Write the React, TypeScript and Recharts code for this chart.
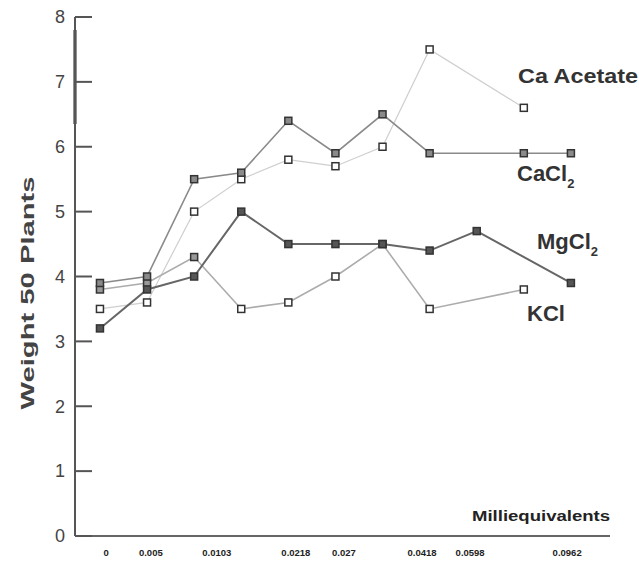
import React from 'react';
import { LineChart, Line, XAxis, YAxis, ReferenceLine, Customized } from 'recharts';

// Category positions (equally spaced doses in the original figure)
const positions = [0, 1, 2, 3, 4, 5, 6, 7, 8, 9, 10];
const caAcetate = [3.5, 3.6, 5.0, 5.5, 5.8, 5.7, 6.0, 7.5, null, 6.6, null];
const caCl2 = [3.9, 4.0, 5.5, 5.6, 6.4, 5.9, 6.5, 5.9, null, 5.9, 5.9];
const kCl = [3.8, 3.9, 4.3, 3.5, 3.6, 4.0, 4.5, 3.5, null, 3.8, null];
const mgCl2 = [3.2, 3.8, 4.0, 5.0, 4.5, 4.5, 4.5, 4.4, 4.7, null, 3.9];

const xTickPositions = [0.13, 1.08, 2.48, 4.16, 5.18, 6.84, 7.86, 9.92];
const xTickLabels = ['0', '0.005', '0.0103', '0.0218', '0.027', '0.0418', '0.0598', '0.0962'];
const yTicks = [0, 1, 2, 3, 4, 5, 6, 7, 8];

const data = positions.map((p, i) => ({
  x: p,
  caAcetate: caAcetate[i],
  caCl2: caCl2[i],
  kCl: kCl[i],
  mgCl2: mgCl2[i],
}));

const FONT = 'Liberation Sans, Arial, Helvetica, sans-serif';

const makeSquare = (fill: string, earlyFill?: string) => (props: any) => {
  const { cx, cy, index } = props;
  if (cx == null || cy == null || isNaN(cy)) return <g key={`e-${index}`} />;
  const f = earlyFill && index < 3 ? earlyFill : fill;
  return (
    <rect
      key={`s-${index}`}
      x={cx - 3.5}
      y={cy - 3.5}
      width={7}
      height={7}
      fill={f}
      stroke="#333"
      strokeWidth={1.5}
    />
  );
};

const YTick = (props: any) => {
  const { x, y, payload } = props;
  return (
    <g>
      <line x1={x} x2={x + 17} y1={y} y2={y} stroke="#555" strokeWidth={2} />
      <text x={x - 10} y={y} dy="0.35em" textAnchor="end" fontSize={18} fill="#444" fontFamily={FONT}>
        {payload.value}
      </text>
    </g>
  );
};

const Annotations = () => (
  <g fontFamily={FONT} fill="#333">
    <text
      transform="translate(27,293) rotate(-90)"
      textAnchor="middle"
      dy="0.35em"
      fontSize={19}
      fontWeight="bold"
      fill="#444"
      textLength={233}
      lengthAdjust="spacingAndGlyphs"
    >
      Weight 50 Plants
    </text>
    <text x={518} y={76} dy="0.35em" fontSize={21} fontWeight="bold" textLength={120} lengthAdjust="spacingAndGlyphs">
      Ca Acetate
    </text>
    <text x={517} y={173} dy="0.35em" fontSize={22} fontWeight="bold">
      CaCl<tspan fontSize={13} dy={7}>2</tspan>
    </text>
    <text x={537} y={241} dy="0.35em" fontSize={22} fontWeight="bold">
      MgCl<tspan fontSize={13} dy={7}>2</tspan>
    </text>
    <text x={527} y={313} dy="0.35em" fontSize={22} fontWeight="bold">
      KCl
    </text>
    <text x={472} y={516} dy="0.35em" fontSize={14} fontWeight="bold" fill="#222" textLength={138} lengthAdjust="spacingAndGlyphs">
      Milliequivalents
    </text>
  </g>
);

export default function App() {
  return (
    <div style={{ position: 'absolute', left: 0, top: 0, width: 639, height: 562, background: '#fff' }}>
      <LineChart width={639} height={562} data={data} margin={{ top: 17, right: 29, bottom: 0, left: 25 }}>
        <XAxis
          dataKey="x"
          type="number"
          domain={[-0.53, 10.83]}
          ticks={xTickPositions}
          interval={0}
          tickFormatter={(v: number) => xTickLabels[xTickPositions.indexOf(v)] ?? ''}
          tickLine={false}
          tickSize={0}
          tickMargin={13}
          height={26}
          axisLine={{ stroke: '#666', strokeWidth: 2 }}
          tick={{ fontSize: 9.5, fontWeight: 'bold', fill: '#222', fontFamily: FONT }}
          allowDataOverflow
        />
        <YAxis
          type="number"
          domain={[0, 8]}
          ticks={yTicks}
          interval={0}
          width={50}
          tickLine={false}
          tickSize={0}
          tickMargin={0}
          axisLine={{ stroke: '#555', strokeWidth: 2 }}
          tick={<YTick />}
        />
        <ReferenceLine
          segment={[{ x: -0.53, y: 7.8 }, { x: -0.53, y: 6.35 }]}
          stroke="#222"
          strokeWidth={3}
          ifOverflow="visible"
        />
        <Line
          dataKey="caAcetate"
          type="linear"
          stroke="#cfcfcf"
          strokeWidth={1.2}
          connectNulls
          isAnimationActive={false}
          dot={makeSquare('#fff')}
          activeDot={false}
        />
        <Line
          dataKey="kCl"
          type="linear"
          stroke="#acacac"
          strokeWidth={1.6}
          connectNulls
          isAnimationActive={false}
          dot={makeSquare('#fff', '#999')}
          activeDot={false}
        />
        <Line
          dataKey="caCl2"
          type="linear"
          stroke="#8a8a8a"
          strokeWidth={1.6}
          connectNulls
          isAnimationActive={false}
          dot={makeSquare('#8a8a8a')}
          activeDot={false}
        />
        <Line
          dataKey="mgCl2"
          type="linear"
          stroke="#666"
          strokeWidth={2}
          connectNulls
          isAnimationActive={false}
          dot={makeSquare('#555')}
          activeDot={false}
        />
        <Customized component={Annotations} />
      </LineChart>
    </div>
  );
}
